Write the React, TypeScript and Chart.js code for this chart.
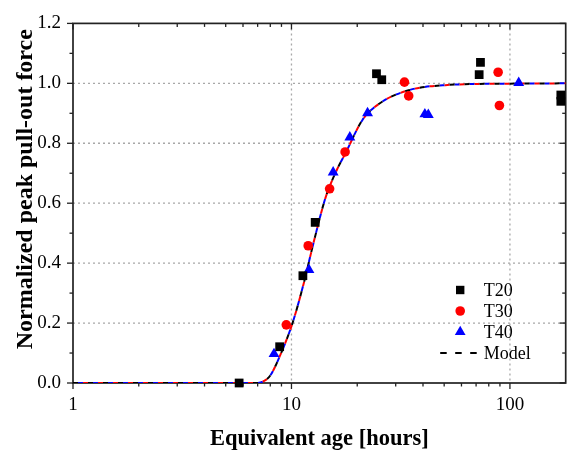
import { useEffect, useRef } from 'react';
import { Chart, registerables } from 'chart.js';

Chart.register(...registerables);

// ---- Data ----
const t20X = [5.76, 8.83, 11.28, 12.84, 24.5, 25.9, 72.3, 73.3, 171, 171];
const t20Y = [0.0, 0.121, 0.358, 0.536, 1.032, 1.012, 1.029, 1.07, 0.961, 0.94];

const t30X = [9.47, 11.93, 14.95, 17.6, 32.9, 34.4, 88.3, 89.5];
const t30Y = [0.194, 0.458, 0.648, 0.771, 1.004, 0.958, 1.037, 0.926];

const t40X = [8.32, 12.02, 15.52, 18.5, 22.3, 40.8, 42.3, 109.7];
const t40Y = [0.097, 0.378, 0.703, 0.82, 0.901, 0.897, 0.895, 1.002];

const modelX = [1, 3, 5, 6.9, 7.5, 8.0, 8.8, 10.1, 11.3, 12.7, 14.3, 16.2, 17.7, 21.1, 25.1, 34.4, 50.6, 100, 180];
const modelY = [0, 0, 0, 0, 0.007, 0.025, 0.086, 0.199, 0.324, 0.476, 0.617, 0.714, 0.768, 0.877, 0.931, 0.977, 0.994, 0.999, 1.0];

const xTickValues = [1, 2, 3, 4, 5, 6, 7, 8, 9, 10, 20, 30, 40, 50, 60, 70, 80, 90, 100];
const xMajorTicks = [1, 10, 100];
const xGridValues = [10, 100];
const yTickValues = [0, 0.1, 0.2, 0.3, 0.4, 0.5, 0.6, 0.7, 0.8, 0.9, 1.0, 1.1, 1.2];
const yMajorTicks = [0, 0.2, 0.4, 0.6, 0.8, 1.0, 1.2];
const yGridValues = [0.2, 0.4, 0.6, 0.8, 1.0];

const xTitle = 'Equivalent age [hours]';
const yTitle = 'Normalized peak pull-out force';

const FONT = '"Liberation Serif", "Times New Roman", serif';

Chart.defaults.font.family = FONT;
Chart.defaults.color = '#000';

const pts = (xs: number[], ys: number[]) => xs.map((x, i) => ({ x, y: ys[i] }));

const decorPlugin = {
  id: 'decor',
  beforeDatasetsDraw(chart: any) {
    const { ctx, chartArea: a, scales } = chart;
    const x = scales.x;
    const y = scales.y;
    ctx.save();
    const line = (x1: number, y1: number, x2: number, y2: number) => {
      ctx.beginPath();
      ctx.moveTo(x1, y1);
      ctx.lineTo(x2, y2);
      ctx.stroke();
    };
    // dotted grid
    ctx.strokeStyle = '#a8a8a8';
    ctx.lineWidth = 1.3;
    ctx.setLineDash([2, 3]);
    xGridValues.forEach((v) => {
      const px = x.getPixelForValue(v);
      line(px, a.top, px, a.bottom);
    });
    yGridValues.forEach((v) => {
      const py = y.getPixelForValue(v);
      line(a.left, py, a.right, py);
    });
    ctx.setLineDash([]);
    // ticks
    ctx.strokeStyle = '#222';
    ctx.lineWidth = 1.3;
    xTickValues.forEach((v) => {
      const major = xMajorTicks.includes(v);
      const len = major ? 6 : 3.5;
      const px = x.getPixelForValue(v);
      line(px, a.bottom, px, a.bottom + len);
      line(px, a.top, px, a.top + len);
    });
    yTickValues.forEach((v) => {
      const major = yMajorTicks.some((m) => Math.abs(m - v) < 1e-9);
      const len = major ? 6 : 3.5;
      const py = y.getPixelForValue(v);
      line(a.left - len, py, a.left, py);
      line(a.right, py, a.right - len, py);
    });
    // frame
    ctx.lineWidth = 1.7;
    ctx.strokeRect(a.left, a.top, a.right - a.left, a.bottom - a.top);
    ctx.restore();
  },
  afterDraw(chart: any) {
    const { ctx, chartArea: a } = chart;
    ctx.save();
    // axis titles
    ctx.fillStyle = '#000';
    ctx.textAlign = 'center';
    ctx.textBaseline = 'alphabetic';
    ctx.font = `bold 22.5px ${FONT}`;
    ctx.fillText(xTitle, (a.left + a.right) / 2, chart.height - 10);
    ctx.save();
    ctx.font = `bold 24px ${FONT}`;
    ctx.translate(32, (a.top + a.bottom) / 2 - 14);
    ctx.rotate(-Math.PI / 2);
    ctx.fillText(yTitle, 0, 0);
    ctx.restore();

    // legend
    const ds = chart.data.datasets;
    const mx = a.right - 105.5;
    const tx = a.right - 82;
    const y0 = a.bottom - 93;
    ctx.font = `18px ${FONT}`;
    ctx.textAlign = 'left';
    ctx.textBaseline = 'middle';
    for (let i = 0; i < 4; i++) {
      const d = ds[i];
      const yy = y0 + i * 21;
      ctx.fillStyle = d.backgroundColor;
      ctx.strokeStyle = d.borderColor;
      if (i === 0) {
        ctx.fillRect(mx - 4.2, yy - 4.2, 8.4, 8.4);
      } else if (i === 1) {
        ctx.beginPath();
        ctx.arc(mx, yy, 4.8, 0, Math.PI * 2);
        ctx.fill();
      } else if (i === 2) {
        const r = 6.2;
        ctx.beginPath();
        ctx.moveTo(mx, yy - r);
        ctx.lineTo(mx + r * Math.sin((2 * Math.PI) / 3), yy - r * Math.cos((2 * Math.PI) / 3));
        ctx.lineTo(mx + r * Math.sin((4 * Math.PI) / 3), yy - r * Math.cos((4 * Math.PI) / 3));
        ctx.closePath();
        ctx.fill();
      } else {
        ctx.strokeStyle = '#000';
        ctx.lineWidth = 2;
        ctx.setLineDash([6.5, 8.5]);
        ctx.beginPath();
        ctx.moveTo(mx - 20, yy);
        ctx.lineTo(mx + 17, yy);
        ctx.stroke();
        ctx.setLineDash([]);
      }
      ctx.fillStyle = '#000';
      ctx.fillText(d.label, tx, yy + 1);
    }
    ctx.restore();
  },
};

export default function App() {
  const ref = useRef<HTMLCanvasElement | null>(null);
  useEffect(() => {
    document.body.style.margin = '0';
    const canvas = ref.current;
    if (!canvas) return;
    const modelData = pts(modelX, modelY);
    const modelLine = (label: string, color: string, offset: number) => ({
      type: 'line' as const,
      label,
      data: modelData,
      borderColor: color,
      backgroundColor: color,
      borderWidth: 2,
      borderDash: [5, 10],
      borderDashOffset: offset,
      pointRadius: 0,
      showLine: true,
      fill: false,
      cubicInterpolationMode: 'monotone' as const,
    });
    const chart = new Chart(canvas, {
      type: 'scatter',
      data: {
        datasets: [
          {
            label: 'T20',
            data: pts(t20X, t20Y),
            pointStyle: 'rect',
            pointRadius: 6.2,
            backgroundColor: '#000000',
            borderColor: '#000000',
            borderWidth: 0,
            clip: false,
          },
          {
            label: 'T30',
            data: pts(t30X, t30Y),
            pointStyle: 'circle',
            pointRadius: 4.8,
            backgroundColor: '#ff0000',
            borderColor: '#ff0000',
            borderWidth: 0,
            clip: false,
          },
          {
            label: 'T40',
            data: pts(t40X, t40Y),
            pointStyle: 'triangle',
            pointRadius: 6.3,
            backgroundColor: '#0000ff',
            borderColor: '#0000ff',
            borderWidth: 0,
            clip: false,
          },
          modelLine('Model', '#000000', 0),
          modelLine('Model-red', '#ff0000', 5),
          modelLine('Model-blue', '#0000ff', 10),
        ] as any,
      },
      options: {
        responsive: false,
        animation: false,
        events: [],
        layout: { padding: { top: 14, right: 4, left: 0, bottom: 0 } },
        plugins: {
          legend: { display: false },
          tooltip: { enabled: false },
          title: { display: false },
        },
        scales: {
          x: {
            type: 'logarithmic',
            position: 'bottom',
            min: 1,
            max: 180,
            grid: { display: false, drawTicks: false },
            border: { display: false },
            afterBuildTicks: (s: any) => {
              s.ticks = xTickValues.map((v) => ({ value: v, major: xMajorTicks.includes(v) }));
            },
            afterFit: (s: any) => {
              s.height = 72;
            },
            ticks: {
              autoSkip: false,
              maxRotation: 0,
              minRotation: 0,
              padding: 11,
              color: '#000',
              font: { family: FONT, size: 19 },
              callback: (v: any) => (xMajorTicks.includes(Number(v)) ? String(v) : ''),
            },
          },
          y: {
            type: 'linear',
            min: 0,
            max: 1.2,
            grid: { display: false, drawTicks: false },
            border: { display: false },
            afterBuildTicks: (s: any) => {
              s.ticks = yTickValues.map((v) => ({ value: v }));
            },
            afterFit: (s: any) => {
              s.width = 73;
            },
            ticks: {
              padding: 12,
              color: '#000',
              font: { family: FONT, size: 19 },
              callback: (v: any) => {
                const n = Number(v);
                return yMajorTicks.some((m) => Math.abs(m - n) < 1e-9) ? n.toFixed(1) : '';
              },
            },
          },
        },
      },
      plugins: [decorPlugin],
    });
    return () => chart.destroy();
  }, []);
  return (
    <div style={{ position: 'absolute', left: 0, top: 0, width: 572, height: 455 }}>
      <canvas ref={ref} width={572} height={455} />
    </div>
  );
}
